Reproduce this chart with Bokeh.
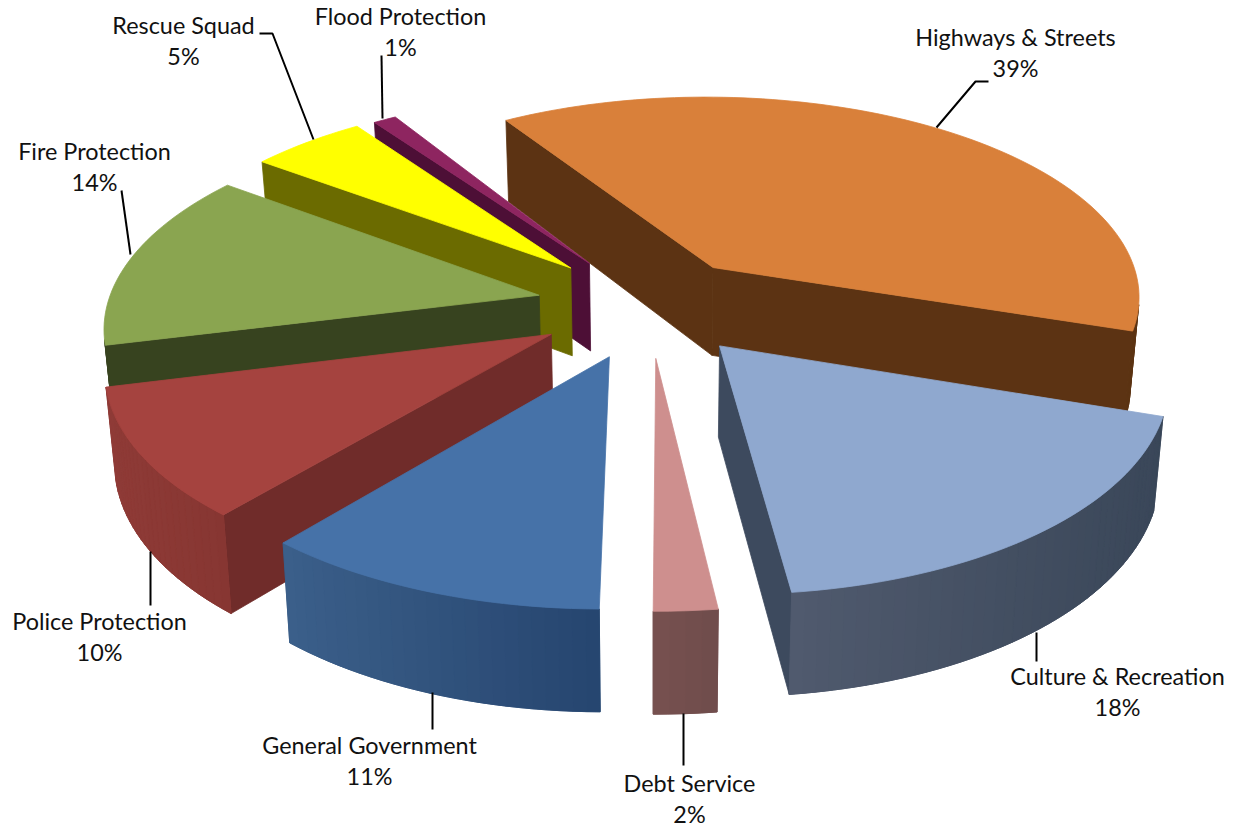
import math
from bokeh.core.properties import value
from bokeh.embed import file_html
from bokeh.models import ColumnDataSource, Range1d
from bokeh.plotting import figure
from bokeh.resources import INLINE

# Spending shares, clockwise from the first slice
categories = ["Highways & Streets", "Culture & Recreation", "Debt Service", "General Government",
              "Police Protection", "Fire Protection", "Rescue Squad", "Flood Protection"]
shares = [39, 18, 2, 11, 10, 14, 5, 1]

# How far each slice is pulled out from the pie's centre, in radii
explode = [0.244, 0.25, 0.252, 0.26, 0.263, 0.262, 0.266, 0.257]

top_colors = ["#D9803A", "#8FA8CF", "#CE8F8E", "#4672A8", "#A5433F", "#8AA550", "#FFFF00", "#8E2560"]
side_colors = ["#5C3313", "#3D4A5E", "#775150", "#26456F", "#702C2A", "#37431F", "#6B6B00", "#4D0F36"]
rim_left = ["#5C3313", "#505A6E", "#775150", "#3B5F8A", "#8F3B37", "#37431F", "#6B6B00", "#4D0F36"]
rim_right = ["#5C3313", "#3A4759", "#6F4C4B", "#26456F", "#873632", "#37431F", "#6B6B00", "#4D0F36"]

# Slices are painted back to front
paint_order = [0, 7, 6, 5, 4, 3, 2, 1]

# Label anchors: name position, share position, leader polyline
label_layout = {
    "Highways & Streets": ((1015, 36), (1015, 67), [(936, 127), (975, 81), (988, 81)]),
    "Culture & Recreation": ((1117, 675), (1117, 706), [(1036, 632), (1036, 661)]),
    "Debt Service": ((689, 782), (689, 813), [(683, 713), (683, 765)]),
    "General Government": ((369, 744), (369, 775), [(432, 692), (432, 729)]),
    "Police Protection": ((99, 620), (99, 651), [(150, 551), (150, 605)]),
    "Fire Protection": ((94, 150), (94, 181), [(130, 254), (121, 190)]),
    "Rescue Squad": ((183, 24), (183, 55), [(313, 139), (272, 33), (259, 33)]),
    "Flood Protection": ((400, 15), (400, 46), [(382, 118), (381, 55)]),
}

# Camera model of the tilted disc
CX, CY = 649.0, 305.0
RX, RY = 432.0, 203.0
PERSPECTIVE = 0.135
START_DEG = -32.0
DROP_CENTRE = 652.0


def project(px, py):
    s = 1.0 / (1.0 + PERSPECTIVE * py)
    return CX + RX * s * px, CY - RY * s * py


def drop(x, y):
    # Where a point of the top face lands on the underside of the pie
    return x - 0.018 * (x - DROP_CENTRE), y + 84.0 + 0.044 * (y - 181.0)


def mix(a, b, t):
    ca = [int(a[i:i + 2], 16) for i in (1, 3, 5)]
    cb = [int(b[i:i + 2], 16) for i in (1, 3, 5)]
    return "#%02x%02x%02x" % tuple(round(u + (v - u) * t) for u, v in zip(ca, cb))


def wall_area(p1, p2):
    b1, b2 = drop(*p1), drop(*p2)
    quad = [p1, p2, b2, b1]
    return sum(quad[i][0] * quad[(i + 1) % 4][1] - quad[(i + 1) % 4][0] * quad[i][1] for i in range(4))


def quad_of(p1, p2):
    b1, b2 = drop(*p1), drop(*p2)
    return [p1[0], p2[0], b2[0], b1[0]], [p1[1], p2[1], b2[1], b1[1]]


p = figure(width=1235, height=829, x_range=Range1d(0, 1235), y_range=Range1d(829, 0),
           output_backend="svg", toolbar_location=None, min_border=0,
           x_axis_location=None, y_axis_location=None,
           background_fill_color="white", border_fill_color="white", outline_line_color=None)
p.grid.visible = False

total = sum(shares)
starts = []
angle = START_DEG
for s in shares:
    starts.append(angle)
    angle += 360.0 * s / total

SLIVER = -3000.0  # radial walls seen almost edge-on are left out

for i in paint_order:
    a0 = starts[i]
    span = 360.0 * shares[i] / total
    mid = math.radians(a0 + span / 2)
    ox, oy = explode[i] * math.sin(mid), explode[i] * math.cos(mid)
    apex = project(ox, oy)
    steps = max(4, int(span / 1.5))
    rim = []
    for k in range(steps + 1):
        t = math.radians(a0 + span * k / steps)
        rim.append(project(ox + math.sin(t), oy + math.cos(t)))

    xs, ys, cols = [], [], []
    if wall_area(apex, rim[0]) < SLIVER:
        qx, qy = quad_of(apex, rim[0])
        xs.append(qx); ys.append(qy); cols.append(side_colors[i])
    if wall_area(rim[-1], apex) < SLIVER:
        qx, qy = quad_of(rim[-1], apex)
        xs.append(qx); ys.append(qy); cols.append(side_colors[i])

    front = [(rim[k], rim[k + 1]) for k in range(steps) if wall_area(rim[k], rim[k + 1]) < 0]
    if front:
        # Solid backing under the shaded strips so no white shows through their joints
        run = [a for a, _ in front] + [front[-1][1]]
        under = [drop(*q) for q in reversed(run)]
        xs.append([q[0] for q in run + under])
        ys.append([q[1] for q in run + under])
        cols.append(mix(rim_left[i], rim_right[i], 0.5))
        lo = min(min(a[0], b[0]) for a, b in front)
        hi = max(max(a[0], b[0]) for a, b in front)
        for a, b in front:
            t = ((a[0] + b[0]) / 2 - lo) / max(hi - lo, 1.0)
            qx, qy = quad_of(a, b)
            xs.append(qx); ys.append(qy); cols.append(mix(rim_left[i], rim_right[i], t))

    xs.append([apex[0]] + [q[0] for q in rim])
    ys.append([apex[1]] + [q[1] for q in rim])
    cols.append(top_colors[i])

    p.patches(xs="xs", ys="ys", fill_color="cols", line_color="cols", line_width=0.8,
              source=ColumnDataSource(dict(xs=xs, ys=ys, cols=cols)))

# Leaders and labels sit above the slices
leader_xs = [[q[0] for q in label_layout[c][2]] for c in categories]
leader_ys = [[q[1] for q in label_layout[c][2]] for c in categories]
p.multi_line(leader_xs, leader_ys, line_color="black", line_width=2)

label_x, label_y, label_text = [], [], []
for c, s in zip(categories, shares):
    name_at, share_at, _ = label_layout[c]
    label_x += [name_at[0], share_at[0]]
    label_y += [name_at[1], share_at[1]]
    label_text += [c, f"{s}%"]
p.text(x="x", y="y", text="t", source=ColumnDataSource(dict(x=label_x, y=label_y, t=label_text)),
       text_align="center", text_baseline="middle", text_color="#111111",
       text_font=value("Lato"), text_font_size="23.4px")

open("out.html", "w").write(file_html(p, INLINE))
